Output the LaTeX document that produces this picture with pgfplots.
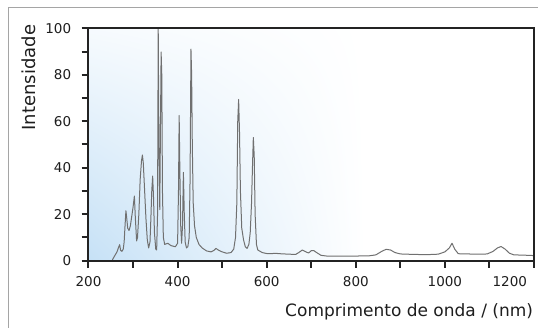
\documentclass[border=0pt]{standalone}
\usepackage{pgfplots}
\pgfplotsset{compat=1.18}
\usetikzlibrary{shadings}
\usepackage{fontspec}
\setmainfont{DejaVu Sans}
\definecolor{bgblue}{RGB}{198,225,246}
\definecolor{axcol}{RGB}{35,35,35}
\definecolor{linecol}{RGB}{112,112,112}
\definecolor{txt}{RGB}{30,30,30}
\definecolor{framecol}{RGB}{165,165,165}
\newcommand{\yl}[1]{\makebox[0pt][r]{#1\hspace{6pt}}}
\begin{document}
\begin{tikzpicture}
\useasboundingbox (0pt,0pt) rectangle (538pt,328pt);
\fill[white] (0pt,0pt) rectangle (538pt,328pt);
\draw[framecol, line width=1.2pt] (8.5pt,0pt) -- (8.5pt,320.7pt) -- (538pt,320.7pt);
\begin{axis}[
  at={(88.5pt,67.3pt)}, anchor=south west,
  scale only axis, width=445.5pt, height=232.4pt,
  xmin=200, xmax=1200, ymin=0, ymax=100,
  axis on top,
  every axis/.append style={line width=2pt},
  axis line style={draw=axcol, line width=2pt},
  tick align=outside,
  major tick length=7pt,
  major tick style={draw=axcol, line width=2pt},
  xtick pos=left, ytick pos=left,
  xtick={200,300,...,1200},
  xticklabels={200,,400,,600,,800,,1000,,\makebox[0pt][r]{1200\hspace{7pt}}},
  ytick={0,10,...,100},
  yticklabels={\yl{0},,\yl{20},,\yl{40},,\yl{60},,\yl{80},,\yl{100}},
  tick label style={font=\fontsize{13.5}{13.5}\selectfont, text=txt},
  xticklabel shift=4pt,
  xlabel={Comprimento de onda / (nm)},
  ylabel={Intensidade},
  label style={text=txt, inner sep=0pt},
  xlabel style={font=\fontsize{17}{17}\selectfont, at={(axis description cs:1,-0.238)}, anchor=base east},
  ylabel style={font=\fontsize{18}{18}\selectfont, at={(axis description cs:-0.119,0.788)}, anchor=base},
]
\shade[lower left=bgblue, upper left=bgblue!15!white, lower right=white, upper right=white]
  (rel axis cs:0,0) rectangle (rel axis cs:0.62,1);
\addplot[linecol, line width=1pt, line join=round, mark=none] coordinates {
(253,0) (256,1.2) (260,2.5) (264,3.8) (267,5.5) (270,6.9) (272,4.5) (275,4.0) (278,5.0) (280,8)
(282,15) (284,21.5) (286,18) (288,14) (291,13) (294,15) (297,19) (300,23) (303,27.8) (305,19)
(308,8.5) (310,10) (313,20) (316,35) (319,43) (321,45.5) (323,42) (326,30) (329,18) (332,9)
(335,5.5) (338,8) (340,18) (342,30) (344,36.4) (346,27) (348,12) (351,5) (353,4.6) (355,20)
(356.5,99.8) (358,52) (359,38) (360,22) (361,45) (363,89.8) (364.5,80) (366,30) (368,10) (371,7)
(378,7.5) (385,6.5) (395,6) (400,7.5) (402,30) (403.5,62.5) (405,40) (407,15) (409,7.5) (411,15)
(413,38) (415,20) (417,8) (420,5.5) (423,6) (426,10) (428,35) (430,91) (431.5,80) (433,50)
(435,25) (438,15) (442,10) (448,7) (455,5.5) (465,4.2) (475,3.8) (482,4.5) (486,5.3) (492,4.5)
(500,3.8) (510,3.2) (520,3.5) (526,5) (530,10) (533,25) (535,60) (537,69.4) (539,55) (541,30)
(544,14) (548,9) (552,6) (556,5.3) (560,7) (563,12) (566,25) (568,40) (570,53) (572,45)
(574,20) (577,7) (580,4.6) (590,3.5) (602,3) (610,3) (618,3.2) (630,3) (650,2.8) (665,2.7)
(672,3.5) (680,4.6) (688,3.8) (694,3.3) (700,4.3) (706,4.3) (712,3.5) (722,2.3) (735,2) (760,2)
(800,2) (830,2.1) (845,2.5) (858,4) (868,4.9) (878,4.6) (888,3.5) (900,2.9) (930,2.7) (960,2.6)
(985,2.8) (1000,3.8) (1010,5.5) (1016,7.5) (1022,5) (1030,3) (1050,2.9) (1080,2.8) (1095,2.9) (1108,4)
(1118,5.5) (1126,6.1) (1135,5) (1145,3.2) (1155,2.5) (1175,2.4) (1200,2.2)
};
\end{axis}
\end{tikzpicture}
\end{document}
